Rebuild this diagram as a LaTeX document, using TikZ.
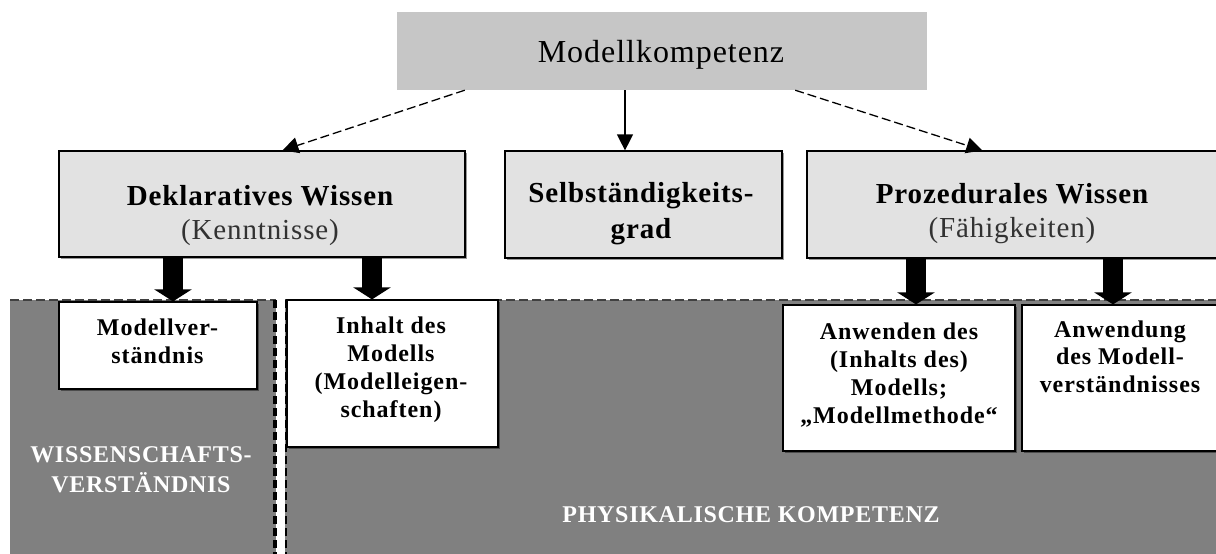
\documentclass[tikz,border=0pt]{standalone}
\usepackage{fontspec}
\setmainfont{Liberation Serif}
\newfontfamily\spacedA[LetterSpace=3]{Liberation Serif}
\newfontfamily\spacedB[LetterSpace=4]{Liberation Serif}
\usetikzlibrary{arrows.meta,shadows}
\definecolor{topgray}{RGB}{198,198,198}
\definecolor{midgray}{RGB}{226,226,226}
\definecolor{bggray}{RGB}{128,128,128}
\definecolor{subgray}{RGB}{50,50,50}
\begin{document}
\begin{tikzpicture}[x=1pt,y=-1pt,
  topbox/.style={fill=topgray, inner sep=0pt, minimum width=530pt, minimum height=78pt},
  midbox/.style={draw=black, line width=1.2pt, fill=midgray, inner sep=0pt,
    drop shadow={shadow xshift=2pt, shadow yshift=-2pt, fill=black!40, opacity=1}},
  lowbox/.style={draw=black, line width=1.2pt, fill=white, inner sep=0pt,
    drop shadow={shadow xshift=1.5pt, shadow yshift=-1.5pt, fill=black!70, opacity=1}},
  midtext/.style={anchor=north, inner sep=0pt, align=center, font=\spacedA\bfseries\fontsize{29}{34}\selectfont},
  lowtext/.style={anchor=north, inner sep=0pt, align=center, font=\spacedB\bfseries\fontsize{24}{28}\selectfont},
  bgtext/.style={inner sep=0pt, align=center, text=white, font=\spacedA\bfseries\fontsize{24}{30}\selectfont},
  thinarrow/.style={line width=1.3pt, -{Triangle[width=16pt,length=16pt]}},
  dasharrow/.style={thinarrow, dash pattern=on 9pt off 4pt},
  blockarrow/.style={line width=20pt, -{Triangle[width=37pt,length=12pt]}}
]
\useasboundingbox (0,0) rectangle (1216,554);
\clip (0,0) rectangle (1216,554);

% background regions
\fill[bggray] (10,300) rectangle (276,554);
\fill[bggray] (285,300) rectangle (1216,554);
\draw[black!75, line width=1.5pt, dash pattern=on 9pt off 4pt] (10,300) -- (276,300);
\draw[black!75, line width=1.5pt, dash pattern=on 9pt off 4pt] (285,300) -- (1216,300);
\draw[black, line width=3.5pt, dash pattern=on 8pt off 4pt] (275,300) -- (275,554);
\draw[black, line width=2pt, dash pattern=on 8pt off 4pt] (286,300) -- (286,554);

% top box
\node[topbox] (top) at (662,51) {};
\node[anchor=base, inner sep=0pt, font=\spacedA\fontsize{32}{36}\selectfont] (toptext) at (661,62) {Modellkompetenz};

% middle boxes
\node[midbox, minimum width=406pt, minimum height=106pt] (dekl) at (262,204) {};
\node[midbox, minimum width=277pt, minimum height=107pt] (selb) at (643.5,204.5) {};
\node[midbox, minimum width=412pt, minimum height=107pt] (proz) at (1013,204.5) {};

\node[midtext] (dekltext) at (260,185) {Deklaratives Wissen\\{\mdseries\color{subgray}(Kenntnisse)}};
\node[midtext, font=\spacedA\bfseries\fontsize{29}{36}\selectfont] (selbtext) at (641,182) {Selbständigkeits-\\grad};
\node[midtext] (proztext) at (1012,183) {Prozedurales Wissen\\{\mdseries\color{subgray}(Fähigkeiten)}};

% lower boxes
\node[lowbox, minimum width=198pt, minimum height=87pt] (mv) at (158,345.5) {};
\node[lowbox, minimum width=211pt, minimum height=147pt] (inh) at (392.5,373.5) {};
\node[lowbox, minimum width=232pt, minimum height=146pt] (anw1) at (899,378) {};
\node[lowbox, minimum width=197pt, minimum height=146pt] (anw2) at (1120.5,378) {};

\node[lowtext] (mvtext) at (157.5,318.5) {Modellver-\\ständnis};
\node[lowtext] (inhtext) at (391,316.5) {Inhalt des\\Modells\\(Modelleigen-\\schaften)};
\node[lowtext] (anw1text) at (899,322.5) {Anwenden des\\(Inhalts des)\\Modells;\\„Modellmethode“};
\node[lowtext, font=\spacedB\bfseries\fontsize{24}{27.5}\selectfont] (anw2text) at (1120,320.5) {Anwendung\\des Modell-\\verständnisses};

% region labels
\node[bgtext, anchor=north] (wiss) at (141,446) {WISSENSCHAFTS-\\VERSTÄNDNIS};
\node[bgtext, anchor=base] (phys) at (751,522) {PHYSIKALISCHE KOMPETENZ};

% connectors from the top box
\draw[dasharrow] ([xshift=68pt]top.south west) -- ([xshift=224pt]dekl.north west);
\draw[thinarrow] ([xshift=-37pt]top.south) -- ([xshift=-18.5pt]selb.north);
\draw[dasharrow] ([xshift=-132pt]top.south east) -- ([xshift=176pt]proz.north west);

% block arrows
\draw[blockarrow] ([xshift=-89pt]dekl.south) -- ([xshift=15pt]mv.north);
\draw[blockarrow] ([xshift=110pt]dekl.south) -- ([xshift=-20.5pt]inh.north);
\draw[blockarrow] ([xshift=-97pt]proz.south) -- ([xshift=17pt]anw1.north);
\draw[blockarrow] ([xshift=100pt]proz.south) -- ([xshift=-7.5pt]anw2.north);
\end{tikzpicture}
\end{document}
